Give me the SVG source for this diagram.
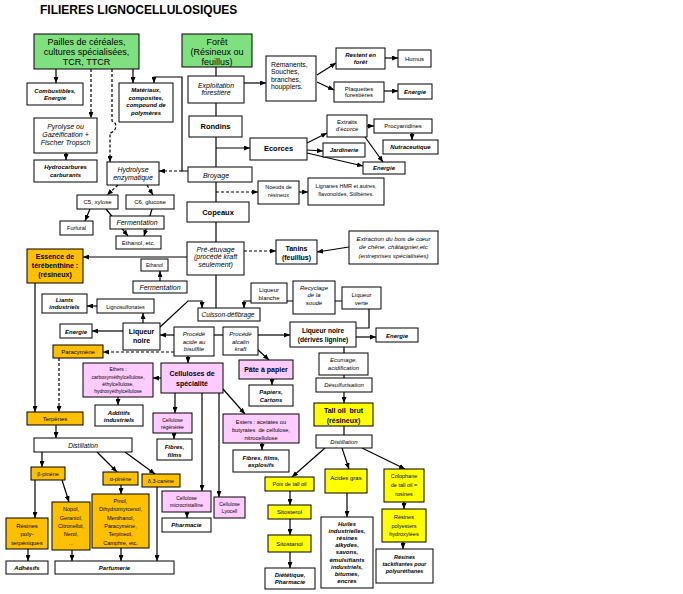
<svg xmlns="http://www.w3.org/2000/svg" width="683" height="594" viewBox="0 0 683 594">
<style>
text{font-family:"Liberation Sans",Arial,sans-serif;fill:#000;text-anchor:middle}
rect{fill:#fff;stroke:#000;stroke-width:1}
rect.g{fill:#80E080}rect.o{fill:#FFC000}rect.p{fill:#FFCCFF}rect.y{fill:#FFFF00}
.L{font-size:9px}
.H{font-size:7.5px;font-weight:bold}
.H7{font-size:7px;font-weight:bold}
.BI{font-size:6px;font-weight:bold;font-style:italic}
.I{font-size:7px;font-style:italic}
.I6{font-size:6px;font-style:italic}
.R{font-size:6px}
.R55{font-size:5.5px}
.R5{font-size:5px}
#conn path{fill:none;stroke:#000;stroke-width:1.2}
#conn .d{stroke-dasharray:3 2}
#conn .a{marker-end:url(#a)}
</style>
<defs><marker id="a" markerUnits="userSpaceOnUse" markerWidth="6" markerHeight="5" refX="6" refY="2.5" orient="auto"><path d="M0,0L6,2.5L0,5z" fill="#000"/></marker></defs>
<text x="40" y="14" style="text-anchor:start;font-size:12px;font-weight:bold">FILIERES LIGNOCELLULOSIQUES</text>
<g id="conn">
<path class="a" d="M56,69V83"/>
<path class="a d" d="M91,69V118"/>
<path class="a d" d="M112,69V121C118,123 117,131 110,133V162"/>
<path class="a" d="M133,69V83"/>
<path class="a" d="M188,171H182V77H154V83"/>
<path class="a d" d="M182,171H159"/>
<path class="a" d="M66,153V160"/>
<path class="a d" d="M118,185L107,195"/>
<path class="a d" d="M147,185L153,195"/>
<path class="a" d="M90,209L85,221"/>
<path class="a" d="M106,209L128,236"/>
<path class="a" d="M152,209L144,236"/>
<path d="M216,67V308"/>
<path class="a" d="M244,83H266"/>
<path class="a" d="M317,75L336,63"/>
<path class="a" d="M317,82L334,90"/>
<path class="a" d="M385,58H398"/>
<path class="a" d="M384,91H398"/>
<path class="a" d="M216,148H250"/>
<path class="a" d="M307,143L327,133"/>
<path class="a" d="M307,150L323,151"/>
<path class="a" d="M307,153L363,166"/>
<path class="a" d="M365,137L383,162"/>
<path class="a" d="M367,126H374"/>
<path class="a" d="M412,133V140"/>
<path class="a d" d="M216,192H258"/>
<path class="a" d="M299,192H308"/>
<path class="a d" d="M244,251H276"/>
<path class="a" d="M349,247L317,252"/>
<path class="a" d="M187,257H83"/>
<path class="a" d="M160,281V271"/>
<path class="a" d="M97,306H87"/>
<path class="a" d="M143,323V313"/>
<path class="a" d="M123,331H92"/>
<path class="a" d="M160,327L188,301H202V308"/>
<path class="a" d="M251,301H244V308"/>
<path d="M287,301H293M335,301H342"/>
<path d="M369,309V328H356"/>
<path class="a" d="M174,335H160"/>
<path d="M214,335H223"/>
<path class="a" d="M258,335H290"/>
<path class="a" d="M356,337H376"/>
<path class="a" d="M256,348L269,360"/>
<path class="a d" d="M174,352H103"/>
<path class="a" d="M188,356V363"/>
<path class="a d" d="M59,358V412"/>
<path class="a" d="M35,283V412"/>
<path class="a" d="M161,378H153"/>
<path class="a" d="M118,397V405"/>
<path class="a" d="M175,393V413"/>
<path class="a" d="M174,433V439"/>
<path class="a" d="M202,393V491"/>
<path class="a" d="M219,393V497"/>
<path class="a" d="M223,389L245,414"/>
<path class="a" d="M262,443V450"/>
<path class="a" d="M187,512V518"/>
<path class="a" d="M272,379V385"/>
<path d="M344,347V353M344,375V378"/>
<path class="a" d="M344,392V403"/>
<path d="M344,426V435"/>
<path class="a" d="M325,448L292,477"/>
<path class="a" d="M342,448L349,469"/>
<path class="a" d="M362,448L405,469"/>
<path class="a" d="M290,491V505"/>
<path class="a" d="M290,519V535"/>
<path class="a" d="M290,552V568"/>
<path class="a" d="M347,493V517"/>
<path class="a" d="M404,502V509"/>
<path class="a" d="M403,542V549"/>
<path class="a" d="M56,425V438"/>
<path class="a" d="M42,452V467"/>
<path class="a" d="M97,452L117,472"/>
<path class="a" d="M125,452L155,474"/>
<path class="a" d="M35,480V518"/>
<path class="a" d="M62,480L69,502"/>
<path class="a" d="M121,485V494"/>
<path class="a" d="M28,549V561"/>
<path class="a" d="M72,550V561"/>
<path class="a" d="M121,548V561"/>
<path class="a" d="M157,487V561"/>
</g>
<g id="pailles"><rect class="g" x="34" y="34" width="105" height="35"/><text class="L" x="86.5" y="45">Pailles de céréales,<tspan x="86.5" y="55">cultures spécialisées,</tspan><tspan x="86.5" y="65">TCR, TTCR</tspan></text></g>
<g id="foret"><rect class="g" x="182" y="34" width="70" height="33"/><text class="L" x="217" y="44.5">Forêt<tspan x="217" y="54.5">(Résineux ou</tspan><tspan x="217" y="64.5">feuillus)</tspan></text></g>
<g id="combustibles"><rect x="27" y="83" width="56" height="22"/><text class="BI" x="55" y="92.5">Combustibles,<tspan x="55" y="99.5">Energie</tspan></text></g>
<g id="materiaux"><rect x="119" y="83" width="54" height="39"/><text class="BI" x="146" y="92">Matériaux,<tspan x="146" y="99.5">composites,</tspan><tspan x="146" y="107">compound de</tspan><tspan x="146" y="114.5">polymères</tspan></text></g>
<g id="pyrolyse"><rect x="34" y="118" width="63" height="35"/><text class="I" x="65.5" y="129">Pyrolyse ou<tspan x="65.5" y="137">Gazéification +</tspan><tspan x="65.5" y="145">Fischer Tropsch</tspan></text></g>
<g id="hydrocarbures"><rect x="34" y="160" width="63" height="22"/><text class="BI" x="65.5" y="169">Hydrocarbures<tspan x="65.5" y="176.5">carburants</tspan></text></g>
<g id="hydrolyse"><rect x="107" y="162" width="52" height="23"/><text class="I" x="133" y="172">Hydrolyse<tspan x="133" y="180">enzymatique</tspan></text></g>
<g id="exploitation"><rect x="188" y="76" width="56" height="27"/><text class="I" x="216" y="87.5">Exploitation<tspan x="216" y="95">forestière</tspan></text></g>
<g id="rondins"><rect x="189" y="116" width="53" height="21"/><text class="H" x="215.5" y="129">Rondins</text></g>
<g id="remanents"><rect x="266" y="56" width="50" height="45"/><text style="font-size:6.8px;text-anchor:start" x="271" y="66.5">Rémanents,<tspan x="271" y="74">Souches,</tspan><tspan x="271" y="81.5">branches,</tspan><tspan x="271" y="89">houppiers.</tspan></text></g>
<g id="restent"><rect x="336" y="48" width="49" height="21"/><text class="BI" x="360.5" y="56.5">Restent en<tspan x="360.5" y="64">forêt</tspan></text></g>
<g id="plaquettes"><rect x="334" y="82" width="50" height="20"/><text class="R" x="359" y="90.5">Plaquettes<tspan x="359" y="97">forestières</tspan></text></g>
<g id="humus"><rect x="398" y="50" width="33" height="17"/><text class="R" x="414.5" y="60.5">Humus</text></g>
<g id="energie1"><rect x="398" y="84" width="34" height="15"/><text class="BI" x="415" y="93.5">Energie</text></g>
<g id="ecorces"><rect x="250" y="138" width="57" height="22"/><text class="H" x="278.5" y="150.5">Ecorces</text></g>
<g id="extraits"><rect x="327" y="115" width="40" height="22"/><text class="R" x="347" y="123.5">Extraits<tspan x="347" y="130.5">d'écorce</tspan></text></g>
<g id="procyanidines"><rect x="374" y="119" width="58" height="14"/><text class="R" x="403" y="128">Procyanidines</text></g>
<g id="nutraceutique"><rect x="383" y="140" width="55" height="14"/><text class="BI" x="410.5" y="149">Nutraceutique</text></g>
<g id="jardinerie"><rect x="323" y="143" width="42" height="14"/><text class="BI" x="344" y="152">Jardinerie</text></g>
<g id="energie2"><rect x="363" y="162" width="42" height="12"/><text class="BI" x="384" y="170">Energie</text></g>
<g id="broyage"><rect x="188" y="167" width="64" height="15"/><text class="I" x="216" y="177.5">Broyage</text></g>
<g id="noeuds"><rect x="258" y="181" width="41" height="23"/><text class="R55" x="278.5" y="189">Noeuds de<tspan x="278.5" y="196.5">résineux</tspan></text></g>
<g id="lignanes"><rect x="308" y="178" width="76" height="27"/><text class="R55" x="346" y="187.5">Lignanes HMR et autres,<tspan x="346" y="195.5">flavonoïdes, Stilbènes.</tspan></text></g>
<g id="c5"><rect x="77" y="195" width="41" height="14"/><text class="R" x="97.5" y="204">C5, xylose</text></g>
<g id="c6"><rect x="126" y="195" width="48" height="14"/><text class="R" x="150" y="204">C6, glucose</text></g>
<g id="furfural"><rect x="60" y="221" width="33" height="14"/><text class="R55" x="76.5" y="230">Furfural</text></g>
<g id="fermentation1"><rect x="110" y="216" width="54" height="13"/><text class="I" x="137" y="225">Fermentation</text></g>
<g id="ethanol1"><rect x="116" y="236" width="45" height="13"/><text class="R" x="138.5" y="245">Ethanol, etc.</text></g>
<g id="copeaux"><rect x="187" y="202" width="62" height="20"/><text class="H" x="218" y="214.5">Copeaux</text></g>
<g id="preetuvage"><rect x="187" y="242" width="57" height="33"/><text class="I" x="215.5" y="251.5">Pré-étuvage<tspan x="215.5" y="259">(procédé kraft</tspan><tspan x="215.5" y="266.5">seulement)</tspan></text></g>
<g id="tanins"><rect x="276" y="240" width="41" height="24"/><text class="H7" x="296.5" y="250.5">Tanins<tspan x="296.5" y="260">(feuillus)</tspan></text></g>
<g id="extraction"><rect x="349" y="231" width="89" height="33"/><text style="font-size:6.2px;font-style:italic" x="393.5" y="240.5">Extraction du bois de cœur<tspan x="393.5" y="249">de chêne, châtaignier,etc</tspan><tspan x="393.5" y="257.5">(entreprises spécialisées)</tspan></text></g>
<g id="essence"><rect class="o" x="27" y="249" width="56" height="34"/><text class="H7" x="55" y="259">Essence de<tspan x="55" y="267.5">térébenthine :</tspan><tspan x="55" y="276.5">(résineux)</tspan></text></g>
<g id="ethanol2"><rect x="141" y="259" width="27" height="12"/><text class="R5" x="154.5" y="267">Ethanol</text></g>
<g id="fermentation2"><rect x="133" y="281" width="54" height="12"/><text class="I" x="160" y="289.5">Fermentation</text></g>
<g id="liants"><rect x="42" y="294" width="45" height="19"/><text class="BI" x="64.5" y="301.5">Liants<tspan x="64.5" y="309">industriels</tspan></text></g>
<g id="lignosulfonates"><rect x="97" y="299" width="57" height="14"/><text class="R55" x="125.5" y="308.5">Lignosulfonates</text></g>
<g id="liqueurnoire1"><rect x="123" y="323" width="37" height="27"/><text class="H7" x="141.5" y="334">Liqueur<tspan x="141.5" y="343">noire</tspan></text></g>
<g id="energie3"><rect x="60" y="324" width="32" height="14"/><text class="BI" x="76" y="333.5">Energie</text></g>
<g id="cuisson"><rect x="198" y="308" width="62" height="13"/><text style="font-size:6.5px;font-style:italic" x="228" y="317">Cuisson-défibrage</text></g>
<g id="acide"><rect x="174" y="327" width="40" height="29"/><text class="I6" x="194" y="336">Procédé<tspan x="194" y="343.5">acide au</tspan><tspan x="194" y="351">bisulfite</tspan></text></g>
<g id="alcalin"><rect x="223" y="327" width="35" height="28"/><text class="I6" x="240.5" y="336">Procédé<tspan x="240.5" y="343.5">alcalin</tspan><tspan x="240.5" y="351">kraft</tspan></text></g>
<g id="blanche"><rect x="251" y="283" width="36" height="20"/><text class="R" x="269" y="291.5">Liqueur<tspan x="269" y="299.5">blanche</tspan></text></g>
<g id="recyclage"><rect x="293" y="281" width="42" height="33"/><text class="I6" x="314" y="289.5">Recyclage<tspan x="314" y="297">de la</tspan><tspan x="314" y="304.5">soude</tspan></text></g>
<g id="verte"><rect x="342" y="287" width="39" height="22"/><text class="R" x="361.5" y="296.5">Liqueur<tspan x="361.5" y="304.5">verte</tspan></text></g>
<g id="liqueurnoire2"><rect x="290" y="322" width="66" height="25"/><text style="font-size:6.6px;font-weight:bold" x="323" y="332.5">Liqueur noire<tspan x="323" y="341.5">(dérivés lignine)</tspan></text></g>
<g id="energie4"><rect x="376" y="328" width="42" height="14"/><text class="BI" x="397" y="337.5">Energie</text></g>
<g id="paracymene"><rect class="o" x="53" y="345" width="50" height="13"/><text class="R" x="78" y="354">Paracymène</text></g>
<g id="celluloses"><rect class="p" x="161" y="363" width="62" height="30"/><text class="H7" x="192" y="375.5">Celluloses de<tspan x="192" y="385.5">spécialité</tspan></text></g>
<g id="ethers"><rect class="p" x="83" y="363" width="70" height="34"/><text class="R5" x="118" y="371">Ethers :<tspan x="118" y="379">carboxyméthylcellulose,</tspan><tspan x="118" y="386">éthylcellulose,</tspan><tspan x="118" y="393">hydroxyéthylcellulose</tspan></text></g>
<g id="additifs"><rect x="95" y="405" width="48" height="21"/><text class="BI" x="119" y="414.5">Additifs<tspan x="119" y="422">industriels</tspan></text></g>
<g id="pate"><rect class="p" x="239" y="360" width="54" height="19"/><text class="H7" x="266" y="372">Pâte à papier</text></g>
<g id="papiers"><rect x="249" y="385" width="44" height="21"/><text class="BI" x="271" y="394">Papiers,<tspan x="271" y="402">Cartons</tspan></text></g>
<g id="ecumage"><rect x="319" y="353" width="49" height="22"/><text class="I6" x="343.5" y="362">Ecumage,<tspan x="343.5" y="369.5">acidification</tspan></text></g>
<g id="desulf"><rect x="316" y="378" width="56" height="14"/><text class="I6" x="344" y="387">Désulfurisation</text></g>
<g id="talloil"><rect class="y" x="314" y="403" width="59" height="23"/><text class="H7" x="343.5" y="413" xml:space="preserve">Tall oil  brut</text><text class="H7" x="343.5" y="422.5">(résineux)</text></g>
<g id="terpenes"><rect class="o" x="27" y="412" width="56" height="13"/><text class="R" x="55" y="421">Terpènes</text></g>
<g id="distill1"><rect x="34" y="438" width="98" height="14"/><text style="font-size:6.5px;font-style:italic" x="83" y="447.5">Distillation</text></g>
<g id="regeneree"><rect class="p" x="153" y="413" width="39" height="20"/><text class="R5" x="172.5" y="421.5">Cellulose<tspan x="172.5" y="428.5">régénérée</tspan></text></g>
<g id="fibres1"><rect x="157" y="439" width="35" height="21"/><text class="BI" x="174.5" y="449">Fibres,<tspan x="174.5" y="456.5">films</tspan></text></g>
<g id="esters"><rect class="p" x="223" y="414" width="76" height="29"/><text style="font-size:5.7px" x="261" y="423.5">Esters : acetates ou<tspan x="261" y="431.5" xml:space="preserve">butyrates  de cellulose,</tspan><tspan x="261" y="439.5">nitrocellulose</tspan></text></g>
<g id="fibres2"><rect x="233" y="450" width="56" height="22"/><text class="BI" x="261" y="459.5">Fibres, films,<tspan x="261" y="467">explosifs</tspan></text></g>
<g id="distill2"><rect x="316" y="435" width="56" height="13"/><text class="I6" x="344" y="444">Distillation</text></g>
<g id="bpinene"><rect class="o" x="31" y="467" width="34" height="13"/><text class="R55" x="48" y="476">β-pinène</text></g>
<g id="apinene"><rect class="o" x="103" y="472" width="35" height="13"/><text class="R55" x="120.5" y="481">α-pinène</text></g>
<g id="carene"><rect class="o" x="142" y="474" width="38" height="13"/><text class="R55" x="161" y="483">δ,3-carène</text></g>
<g id="micro"><rect class="p" x="162" y="491" width="49" height="21"/><text class="R5" x="186.5" y="499.5">Cellulose<tspan x="186.5" y="506.5">microcristalline</tspan></text></g>
<g id="lyocell"><rect class="p" x="214" y="497" width="31" height="21"/><text class="R5" x="229.5" y="505.5">Cellulose<tspan x="229.5" y="513">Lyocell</tspan></text></g>
<g id="pharmacie1"><rect x="162" y="518" width="49" height="14"/><text class="BI" x="186.5" y="527">Pharmacie</text></g>
<g id="poix"><rect class="y" x="265" y="477" width="49" height="14"/><text class="R55" x="289.5" y="486">Poix de tall oil</text></g>
<g id="acides"><rect class="y" x="325" y="469" width="42" height="24"/><text class="R" x="346" y="479.5">Acides gras</text></g>
<g id="colophane"><rect class="y" x="384" y="469" width="40" height="33"/><text class="R55" x="404" y="478">Colophane<tspan x="404" y="486.5">de tall oil =</tspan><tspan x="404" y="495.5">rosines</tspan></text></g>
<g id="sitosterol"><rect class="y" x="268" y="505" width="43" height="14"/><text class="R" x="289.5" y="514">Sitosterol</text></g>
<g id="sitostanol"><rect class="y" x="268" y="535" width="43" height="17"/><text class="R" x="289.5" y="545.5">Sitostanol</text></g>
<g id="dietetique"><rect x="265" y="568" width="50" height="21"/><text class="BI" x="290" y="576.5">Diététique,<tspan x="290" y="584">Pharmacie</tspan></text></g>
<g id="huiles"><rect x="321" y="517" width="52" height="71"/><text class="BI" x="347" y="525.5">Huiles<tspan x="347" y="532.7">industrielles,</tspan><tspan x="347" y="539.9">résines</tspan><tspan x="347" y="547.1">alkydes,</tspan><tspan x="347" y="554.3">savons,</tspan><tspan x="347" y="561.5">émulsifiants</tspan><tspan x="347" y="568.7">industriels,</tspan><tspan x="347" y="575.9">bitumes,</tspan><tspan x="347" y="583.1">encres</tspan></text></g>
<g id="resinespoly"><rect class="y" x="382" y="509" width="44" height="33"/><text class="R55" x="404" y="519">Résines<tspan x="404" y="527.5">polyesters</tspan><tspan x="404" y="535.5">hydroxylées</tspan></text></g>
<g id="tackifiantes"><rect x="376" y="549" width="57" height="34"/><text class="BI" style="font-size:5.5px" x="404.5" y="559">Résines<tspan x="404.5" y="566">tackifiantes pour</tspan><tspan x="404.5" y="573">polyuréthanes</tspan></text></g>
<g id="resinesterp"><rect class="o" x="6" y="518" width="42" height="31"/><text class="R" x="27" y="528">Résines<tspan x="27" y="536">poly-</tspan><tspan x="27" y="544.5">terpéniques</tspan></text></g>
<g id="nopol"><rect class="o" x="52" y="502" width="38" height="48"/><text class="R55" x="71" y="511">Nopol,<tspan x="71" y="519.5">Geraniol,</tspan><tspan x="71" y="527.5">Citronellol,</tspan><tspan x="71" y="536">Nerol,</tspan><tspan x="71" y="545">…</tspan></text></g>
<g id="pinol"><rect class="o" x="92" y="494" width="57" height="54"/><text class="R55" x="120.5" y="503">Pinol,<tspan x="120.5" y="511">Dihydromyrcenol,</tspan><tspan x="120.5" y="519.5">Menthanol,</tspan><tspan x="120.5" y="527.5">Paracymène,</tspan><tspan x="120.5" y="536">Terpineol,</tspan><tspan x="120.5" y="544.5">Camphre, etc.</tspan></text></g>
<g id="adhesifs"><rect x="6" y="561" width="42" height="13"/><text class="BI" x="27" y="570">Adhésifs</text></g>
<g id="parfumerie"><rect x="55" y="561" width="119" height="13"/><text class="BI" x="114.5" y="570">Parfumerie</text></g>
</svg>
